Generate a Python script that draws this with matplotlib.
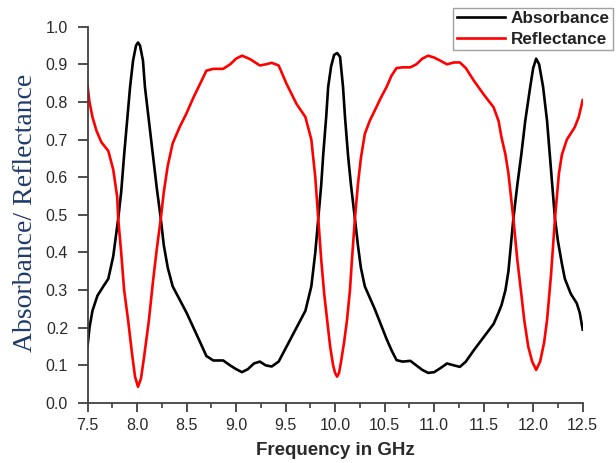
import matplotlib
matplotlib.use("Agg")
import matplotlib.pyplot as plt
from matplotlib.ticker import MultipleLocator

# Frequency (GHz) and absorbance
freq_abs = [7.50, 7.52, 7.55, 7.60, 7.66, 7.71, 7.76, 7.81, 7.84, 7.87, 7.90, 7.93,
            7.96, 7.99, 8.01, 8.03, 8.06, 8.08, 8.12, 8.16, 8.20, 8.24, 8.27, 8.31,
            8.36, 8.43, 8.50, 8.57, 8.64, 8.70, 8.77, 8.87, 8.94, 9.00, 9.06, 9.12,
            9.18, 9.24, 9.30, 9.36, 9.43, 9.51, 9.61, 9.70, 9.76, 9.80, 9.83, 9.86,
            9.88, 9.91, 9.93, 9.96, 9.99, 10.02, 10.05, 10.08, 10.10, 10.13, 10.16,
            10.20, 10.23, 10.26, 10.30, 10.35, 10.40, 10.46, 10.52, 10.57, 10.62,
            10.68, 10.76, 10.82, 10.88, 10.94, 11.00, 11.06, 11.13, 11.20, 11.26,
            11.32, 11.40, 11.50, 11.60, 11.65, 11.68, 11.72, 11.75, 11.80, 11.84,
            11.88, 11.92, 11.97, 12.00, 12.03, 12.06, 12.10, 12.14, 12.18, 12.22,
            12.25, 12.29, 12.32, 12.38, 12.44, 12.47, 12.50]
absorbance = [0.15, 0.20, 0.245, 0.285, 0.31, 0.33, 0.39, 0.49, 0.56, 0.66, 0.75, 0.84,
              0.91, 0.95, 0.958, 0.95, 0.91, 0.84, 0.75, 0.66, 0.57, 0.49, 0.42, 0.36,
              0.31, 0.275, 0.24, 0.20, 0.16, 0.125, 0.113, 0.113, 0.10, 0.09, 0.082, 0.09,
              0.105, 0.11, 0.10, 0.097, 0.11, 0.15, 0.20, 0.245, 0.31, 0.40, 0.49, 0.58,
              0.66, 0.76, 0.84, 0.895, 0.925, 0.93, 0.92, 0.84, 0.76, 0.66, 0.58,
              0.49, 0.42, 0.36, 0.31, 0.28, 0.25, 0.21, 0.17, 0.14, 0.114,
              0.11, 0.112, 0.10, 0.088, 0.08, 0.082, 0.092, 0.105, 0.10, 0.096,
              0.11, 0.14, 0.175, 0.21, 0.24, 0.26, 0.30, 0.35, 0.49, 0.58,
              0.66, 0.75, 0.84, 0.89, 0.915, 0.90, 0.84, 0.75, 0.62, 0.49,
              0.43, 0.37, 0.33, 0.29, 0.265, 0.24, 0.195]

# Frequency (GHz) and reflectance
freq_ref = [7.50, 7.52, 7.55, 7.59, 7.64, 7.71, 7.76, 7.80, 7.81, 7.84, 7.87, 7.91,
            7.95, 7.98, 8.01, 8.04, 8.07, 8.12, 8.16, 8.20, 8.24, 8.27, 8.31, 8.36,
            8.43, 8.50, 8.57, 8.64, 8.70, 8.77, 8.87, 8.94, 9.00, 9.06, 9.14, 9.24,
            9.30, 9.36, 9.43, 9.51, 9.61, 9.70, 9.76, 9.80, 9.83, 9.86, 9.89, 9.92,
            9.95, 9.98, 10.00, 10.02, 10.04, 10.06, 10.09, 10.12, 10.15, 10.17, 10.20,
            10.23, 10.26, 10.30, 10.35, 10.40, 10.46, 10.52, 10.57, 10.62, 10.68,
            10.76, 10.82, 10.88, 10.94, 11.00, 11.06, 11.13, 11.20, 11.26, 11.32,
            11.40, 11.50, 11.60, 11.65, 11.68, 11.72, 11.75, 11.80, 11.84, 11.88,
            11.91, 11.95, 11.99, 12.03, 12.07, 12.11, 12.14, 12.18, 12.22, 12.26,
            12.29, 12.34, 12.42, 12.46, 12.50]
reflectance = [0.845, 0.80, 0.76, 0.724, 0.693, 0.67, 0.62, 0.547, 0.49, 0.40, 0.30, 0.22,
               0.13, 0.07, 0.043, 0.065, 0.12, 0.22, 0.32, 0.41, 0.49, 0.56, 0.63, 0.69,
               0.733, 0.77, 0.812, 0.85, 0.883, 0.888, 0.888, 0.90, 0.915, 0.923, 0.914, 0.897,
               0.90, 0.904, 0.897, 0.848, 0.795, 0.76, 0.70, 0.60, 0.49, 0.38, 0.29, 0.22,
               0.15, 0.10, 0.08, 0.07, 0.08, 0.11, 0.16, 0.22, 0.30, 0.38, 0.49,
               0.58, 0.65, 0.715, 0.75, 0.777, 0.81, 0.84, 0.87, 0.89, 0.892,
               0.892, 0.90, 0.915, 0.923, 0.918, 0.91, 0.90, 0.905, 0.905, 0.89,
               0.857, 0.82, 0.786, 0.75, 0.706, 0.66, 0.61, 0.49, 0.38, 0.29,
               0.22, 0.15, 0.11, 0.088, 0.11, 0.16, 0.22, 0.34, 0.49, 0.61,
               0.66, 0.70, 0.733, 0.76, 0.805]

xticks = [7.5, 8.0, 8.5, 9.0, 9.5, 10.0, 10.5, 11.0, 11.5, 12.0, 12.5]
yticks = [0.0, 0.1, 0.2, 0.3, 0.4, 0.5, 0.6, 0.7, 0.8, 0.9, 1.0]

plt.rcParams['font.family'] = ['Liberation Sans', 'DejaVu Sans']

fig = plt.figure(figsize=(6.16, 4.63), dpi=100)
ax = fig.add_axes([87.5 / 616, 1 - 403 / 463, (582.7 - 87.5) / 616, (403 - 26.7) / 463])

ax.plot(freq_abs, absorbance, color='black', lw=1.9, label='Absorbance',
        solid_joinstyle='round')
ax.plot(freq_ref, reflectance, color='#ff0000', lw=1.9, label='Reflectance',
        solid_joinstyle='round')

ax.set_xlim(7.5, 12.5)
ax.set_ylim(0.0, 1.0)
ax.set_xticks(xticks)
ax.set_xticklabels([f"{t:.1f}" for t in xticks])
ax.set_yticks(yticks)
ax.set_yticklabels([f"{t:.1f}" for t in yticks])
ax.xaxis.set_minor_locator(MultipleLocator(0.25))

for s in ['top', 'right']:
    ax.spines[s].set_visible(False)
for s in ['left', 'bottom']:
    ax.spines[s].set_color('#404040')
    ax.spines[s].set_linewidth(1.3)

ax.tick_params(axis='both', which='major', direction='out', width=1.3,
               color='#404040', labelsize=11.5, labelcolor='#2a2a2a')
ax.tick_params(axis='y', which='major', length=7, pad=7)
ax.tick_params(axis='x', which='major', length=6.5, pad=4.5)
ax.tick_params(axis='x', which='minor', direction='out', length=3.5, width=1.2, color='#404040')

fig.text(335 / 616, 1 - 455 / 463, 'Frequency in GHz', ha='center', va='baseline',
         fontsize=13.5, color='#2a2a2a', fontweight='bold')
fig.text(26 / 616, 1 - 213 / 463, 'Absorbance/ Reflectance', ha='center', va='center',
         rotation=90, fontsize=20, color='#1f3a6b', family='Liberation Serif')

leg = fig.legend(loc='upper right', bbox_to_anchor=(613 / 616, 1 - 8 / 463),
                 prop={'size': 12.3, 'weight': 'bold'}, frameon=True, fancybox=False,
                 handlelength=2.8, handletextpad=0.35, borderpad=0.2, labelspacing=0.3,
                 borderaxespad=0.0)
leg.get_frame().set_edgecolor('#888888')
leg.get_frame().set_linewidth(1.0)
for t in leg.get_texts():
    t.set_color('#222222')

fig.savefig('out.png', dpi=100)
